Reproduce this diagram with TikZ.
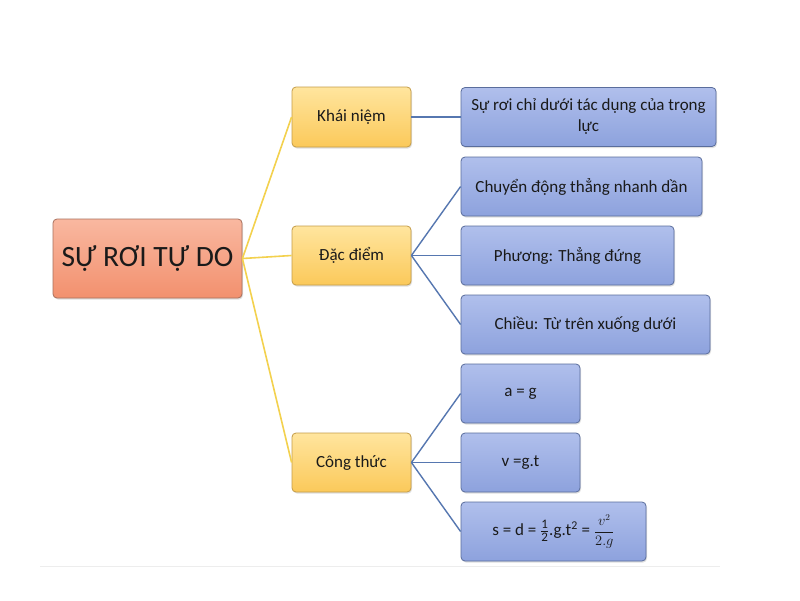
\documentclass[tikz,border=0pt]{standalone}
\usepackage{fontspec}
\setmainfont{Carlito}
\usetikzlibrary{shadows}
\definecolor{rootT}{HTML}{F9B8A0}
\definecolor{rootB}{HTML}{F2906E}
\definecolor{rootD}{HTML}{A8705C}
\definecolor{yelT}{HTML}{FFE59E}
\definecolor{yelB}{HTML}{FBC95A}
\definecolor{yelD}{HTML}{C49C48}
\definecolor{bluT}{HTML}{B0BFEC}
\definecolor{bluB}{HTML}{8DA2DD}
\definecolor{bluD}{HTML}{5A6D9C}
\definecolor{yline}{HTML}{F3D14E}
\definecolor{bline}{HTML}{5677B0}
\definecolor{txt}{HTML}{1A1A1A}
\tikzset{
  basebox/.style={rounded corners=4pt, line width=0.8pt, inner sep=2pt, align=center, text=txt,
    drop shadow={shadow xshift=1pt, shadow yshift=-1.5pt, opacity=0.25}},
  rootbox/.style={basebox, draw=rootD, top color=rootT, bottom color=rootB, font=\fontsize{29.5}{33}\selectfont},
  yelbox/.style={basebox, draw=yelD, top color=yelT, bottom color=yelB, font=\fontsize{17}{20}\selectfont},
  blubox/.style={basebox, draw=bluD, top color=bluT, bottom color=bluB, font=\fontsize{17}{21}\selectfont},
  ylink/.style={draw=yline, line width=1.6pt},
  blink/.style={draw=bline, line width=1.4pt},
}
\begin{document}
\begin{tikzpicture}[x=1pt,y=-1pt]
\useasboundingbox (0,0) rectangle (800,600);
\fill[white] (0,0) rectangle (800,600);
\draw[black!7, line width=0.8pt] (40,566) -- (720,566);

\node[rootbox, minimum width=189pt, minimum height=79pt] (root) at (147.5,258.5) {SỰ RƠI TỰ DO};

\node[yelbox, minimum width=119pt, minimum height=60pt] (khai) at (351.5,117) {Khái niệm};
\node[yelbox, minimum width=119pt, minimum height=59pt] (dac) at (351.5,255.5) {Đặc điểm};
\node[yelbox, minimum width=119pt, minimum height=59pt] (cong) at (351.5,462.5) {Công thức};

\node[blubox, minimum width=255pt, minimum height=59pt] (b1) at (588.5,117) {Sự rơi chỉ dưới tác dụng của trọng\\lực};
\node[blubox, minimum width=241pt, minimum height=59pt] (b2) at (581.5,186.5) {Chuyển động thẳng nhanh dần};
\node[blubox, minimum width=213pt, minimum height=59pt] (b3) at (567.5,255.5) {Phương: Thẳng đứng};
\node[blubox, minimum width=249pt, minimum height=59pt] (b4) at (585.5,324.5) {Chiều: Từ trên xuống dưới};
\node[blubox, minimum width=119pt, minimum height=59pt] (b5) at (520.5,393.5) {a = g};
\node[blubox, minimum width=119pt, minimum height=59pt] (b6) at (520.5,462.5) {v =g.t};
\node[blubox, minimum width=185pt, minimum height=59pt] (b7) at (553.5,531.5) {s = d = $\frac{\mbox{\fontsize{13}{14}\selectfont 1}}{\mbox{\fontsize{13}{14}\selectfont 2}}$.g.t\textsuperscript{2} = {\fontsize{13.5}{15}\selectfont$\displaystyle\frac{v^2}{2.g}$}};

\draw[ylink] (root.east) -- (khai.west);
\draw[ylink] (root.east) -- (dac.west);
\draw[ylink] (root.east) -- (cong.west);

\draw[blink] (khai.east) -- (b1.west);
\draw[blink] (dac.east) -- (b2.west);
\draw[blink] (dac.east) -- (b3.west);
\draw[blink] (dac.east) -- (b4.west);
\draw[blink] (cong.east) -- (b5.west);
\draw[blink] (cong.east) -- (b6.west);
\draw[blink] (cong.east) -- (b7.west);
\end{tikzpicture}
\end{document}
